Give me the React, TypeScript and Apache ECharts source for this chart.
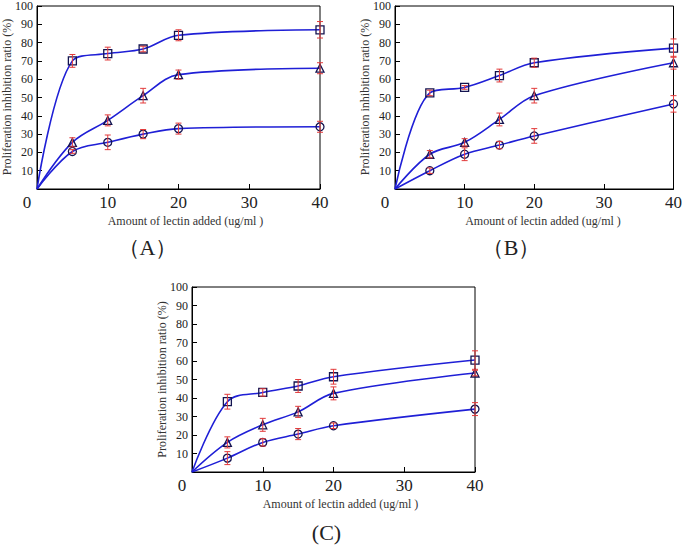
import React, { useEffect, useRef } from "react";
import * as echarts from "echarts";

const doses = [0, 5, 10, 15, 20, 40];

// Panel A
const aSquare = [0, 70, 74, 76.5, 84, 87];
const aSquareErr = [0, 3.5, 3.5, 1.5, 3, 4.5];
const aTriangle = [0, 25.5, 37.5, 51, 62.5, 66];
const aTriangleErr = [0, 2.5, 3, 4, 2.5, 3];
const aCircle = [0, 20.5, 25.5, 30, 33, 34];
const aCircleErr = [0, 1, 4, 2.5, 3, 3];

// Panel B
const bSquare = [0, 52.5, 55.5, 62, 69, 77];
const bSquareErr = [0, 1.5, 1, 3.5, 2.5, 5];
const bTriangle = [0, 19, 25.5, 38, 51, 69];
const bTriangleErr = [0, 2, 2, 3.5, 4, 3.5];
const bCircle = [0, 10, 19, 24, 29, 46.5];
const bCircleErr = [0, 1.5, 3.5, 2, 4, 4.5];

// Panel C
const cSquare = [0, 38, 43, 46.5, 51.5, 60.5];
const cSquareErr = [0, 4, 2, 3.5, 4, 5];
const cTriangle = [0, 16, 25.5, 32.5, 42.5, 53.5];
const cTriangleErr = [0, 3, 3.5, 3, 3.5, 1.5];
const cCircle = [0, 7.5, 16, 20.5, 25, 34];
const cCircleErr = [0, 3.5, 2, 3, 1.5, 3.5];

const yTicks = [10, 20, 30, 40, 50, 60, 70, 80, 90, 100];
const panelLabels = ["（A）", "（B）", "(C)"];
const xTitle = "Amount of lectin added (ug/ml )";
const yTitle = "Proliferation inhibition ratio (%)";

const FONT = "'Liberation Serif', 'Times New Roman', serif";
const LINE = "#1f1fd6";
const ERR = "#e23a3a";
const MARK = "#141450";

const grids = [
  { left: 37, top: 5, width: 283, height: 184 },
  { left: 395, top: 5, width: 282, height: 184 },
  { left: 192, top: 287, width: 283, height: 185 },
];

const panels = [
  [
    [aSquare, aSquareErr, "rect"],
    [aTriangle, aTriangleErr, "triangle"],
    [aCircle, aCircleErr, "circle"],
  ],
  [
    [bSquare, bSquareErr, "rect"],
    [bTriangle, bTriangleErr, "triangle"],
    [bCircle, bCircleErr, "circle"],
  ],
  [
    [cSquare, cSquareErr, "rect"],
    [cTriangle, cTriangleErr, "triangle"],
    [cCircle, cCircleErr, "circle"],
  ],
];

function buildOption() {
  const xAxis: any[] = [];
  const yAxis: any[] = [];
  const series: any[] = [];
  const graphic: any[] = [];

  grids.forEach((g, gi) => {
    xAxis.push({
      type: "value",
      gridIndex: gi,
      min: 0,
      max: 40,
      interval: 10,
      splitLine: { show: false },
      axisLine: { lineStyle: { color: "#000", width: 1 } },
      axisTick: { inside: true, length: 5, lineStyle: { color: "#000" } },
      axisLabel: {
        fontFamily: FONT,
        fontSize: 17,
        color: "#222",
        margin: 5,
        formatter: (v: number) => (v === 0 ? "{z|0}" : String(v)),
        rich: { z: { fontFamily: FONT, fontSize: 17, color: "#222", padding: [0, 20, 0, 0] } },
      },
    });
    yAxis.push({
      type: "value",
      gridIndex: gi,
      min: 0,
      max: 100,
      interval: 10,
      splitLine: { show: false },
      axisLine: { lineStyle: { color: "#000", width: 1 } },
      axisTick: { inside: true, length: 5, lineStyle: { color: "#000" } },
      axisLabel: {
        fontFamily: FONT,
        fontSize: 12,
        color: "#222",
        margin: 4,
        formatter: (v: number) => (yTicks.includes(v) ? String(v) : ""),
      },
    });

    panels[gi].forEach(([vals, errs, sym]: any) => {
      series.push({
        type: "line",
        xAxisIndex: gi,
        yAxisIndex: gi,
        smooth: 0.35,
        symbol: sym,
        symbolSize: 8,
        showSymbol: true,
        lineStyle: { color: LINE, width: 1.6 },
        itemStyle: { color: "rgba(0,0,0,0)", borderColor: MARK, borderWidth: 1.3 },
        data: doses.map((d, i) =>
          i === 0 ? { value: [d, vals[i]], symbol: "none" } : [d, vals[i]]
        ),
        z: 3,
      });
      series.push({
        type: "custom",
        xAxisIndex: gi,
        yAxisIndex: gi,
        encode: { x: 0, y: [1, 2] },
        data: doses
          .map((d, i) => [d, vals[i] - errs[i], vals[i] + errs[i]])
          .filter((_, i) => i > 0),
        renderItem: (params: any, api: any) => {
          const x = api.value(0);
          const lo = api.coord([x, api.value(1)]);
          const hi = api.coord([x, api.value(2)]);
          const w = 3;
          const st = { stroke: ERR, lineWidth: 1 };
          return {
            type: "group",
            children: [
              { type: "line", shape: { x1: lo[0], y1: lo[1], x2: hi[0], y2: hi[1] }, style: st },
              { type: "line", shape: { x1: lo[0] - w, y1: lo[1], x2: lo[0] + w, y2: lo[1] }, style: st },
              { type: "line", shape: { x1: hi[0] - w, y1: hi[1], x2: hi[0] + w, y2: hi[1] }, style: st },
            ],
          };
        },
        z: 4,
      });
    });

    const cx = g.left + g.width / 2;
    const bottom = g.top + g.height;
    graphic.push({
      type: "text",
      x: cx + 7,
      y: bottom + 32,
      style: { text: xTitle, font: `12px ${FONT}`, fill: "#333", textAlign: "center", textVerticalAlign: "middle" },
    });
    graphic.push({
      type: "text",
      x: cx - 31 + (gi === 2 ? 24 : 0) + (gi === 1 ? 6 : 0),
      y: bottom + 58 + (gi === 2 ? 2 : 0),
      style: { text: panelLabels[gi], font: `22px ${FONT}`, fill: "#222", textAlign: "center", textVerticalAlign: "middle" },
    });
    graphic.push({
      type: "text",
      x: g.left - 30,
      y: g.top + g.height / 2,
      rotation: Math.PI / 2,
      style: { text: yTitle, font: `12px ${FONT}`, fill: "#333", textAlign: "center", textVerticalAlign: "middle" },
    });
  });

  return {
    animation: false,
    backgroundColor: "#fff",
    grid: grids.map((g) => ({ ...g, show: true, borderColor: "#000", borderWidth: 1, backgroundColor: "transparent" })),
    xAxis,
    yAxis,
    series,
    graphic,
  };
}

export default function App() {
  const ref = useRef<HTMLDivElement>(null);
  useEffect(() => {
    if (!ref.current) return;
    const chart = echarts.init(ref.current, undefined, { renderer: "svg" });
    chart.setOption(buildOption() as any);
    return () => chart.dispose();
  }, []);
  return (
    <div
      ref={ref}
      style={{ position: "fixed", left: 0, top: 0, width: 685, height: 546, background: "#fff" }}
    />
  );
}
